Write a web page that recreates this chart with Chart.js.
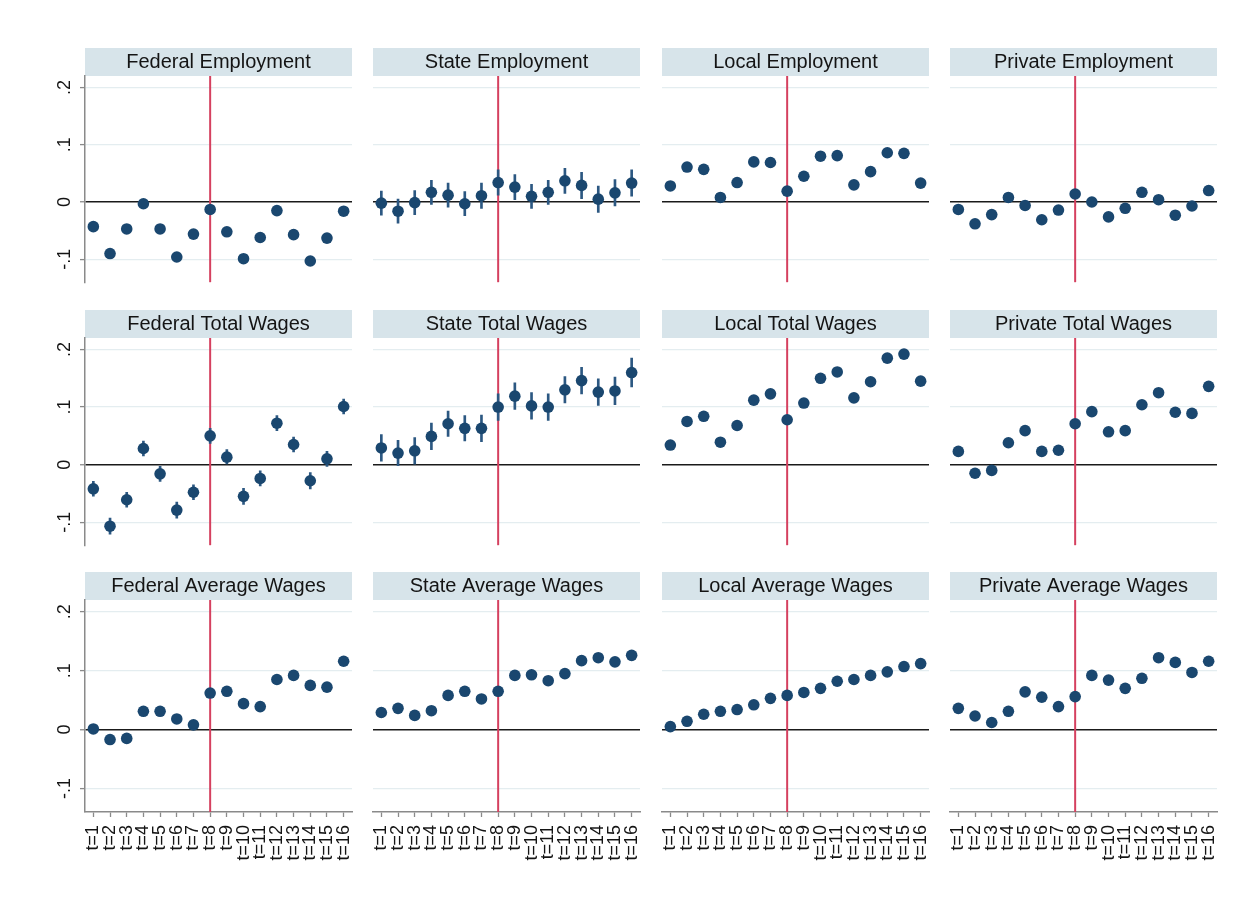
<!DOCTYPE html>
<html>
<head>
<meta charset="utf-8">
<script src="https://cdn.jsdelivr.net/npm/chart.js@4.4.1/dist/chart.umd.min.js"></script>
<style>
  html, body { margin: 0; padding: 0; background: #ffffff; }
  #fig { position: relative; width: 1257px; height: 916px; overflow: hidden; background: #ffffff; }
  #fig canvas { position: absolute; }
</style>
</head>
<body>
<div id="fig"></div>
<script>
// Event-study periods and y-axis ticks
const periods = ['t=1','t=2','t=3','t=4','t=5','t=6','t=7','t=8','t=9','t=10','t=11','t=12','t=13','t=14','t=15','t=16'];
const treatmentPeriod = 't=8';
const yTicks = [-0.1, 0, 0.1, 0.2];
const yTickLabels = ['-.1', '0', '.1', '.2'];

const sectors = ['Federal', 'State', 'Local', 'Private'];
const measures = ['Employment', 'Total Wages', 'Average Wages'];

// Point estimates
const federalEmployment   = [-0.043, -0.090, -0.047, -0.003, -0.047, -0.096, -0.056, -0.013, -0.052, -0.099, -0.062, -0.015, -0.057, -0.103, -0.063, -0.016];
const stateEmployment     = [-0.002, -0.016, -0.001, 0.017, 0.012, -0.003, 0.011, 0.034, 0.026, 0.010, 0.017, 0.037, 0.029, 0.005, 0.016, 0.033];
const localEmployment     = [0.028, 0.061, 0.057, 0.008, 0.034, 0.070, 0.069, 0.019, 0.045, 0.080, 0.081, 0.030, 0.053, 0.086, 0.085, 0.033];
const privateEmployment   = [-0.013, -0.038, -0.022, 0.008, -0.006, -0.031, -0.014, 0.014, 0.000, -0.026, -0.011, 0.017, 0.004, -0.023, -0.007, 0.020];

const federalTotalWages   = [-0.042, -0.107, -0.061, 0.028, -0.016, -0.079, -0.048, 0.050, 0.013, -0.055, -0.024, 0.072, 0.035, -0.028, 0.010, 0.101];
const stateTotalWages     = [0.029, 0.020, 0.024, 0.049, 0.071, 0.063, 0.063, 0.100, 0.119, 0.102, 0.100, 0.130, 0.146, 0.126, 0.128, 0.160];
const localTotalWages     = [0.034, 0.075, 0.084, 0.039, 0.068, 0.112, 0.123, 0.078, 0.107, 0.150, 0.161, 0.116, 0.144, 0.185, 0.192, 0.145];
const privateTotalWages   = [0.023, -0.015, -0.010, 0.038, 0.059, 0.023, 0.025, 0.071, 0.092, 0.057, 0.059, 0.104, 0.125, 0.091, 0.089, 0.136];

const federalAverageWages = [0.001, -0.017, -0.015, 0.031, 0.031, 0.018, 0.008, 0.062, 0.065, 0.044, 0.039, 0.085, 0.092, 0.075, 0.072, 0.116];
const stateAverageWages   = [0.029, 0.036, 0.024, 0.032, 0.058, 0.065, 0.052, 0.065, 0.092, 0.093, 0.083, 0.095, 0.117, 0.122, 0.115, 0.126];
const localAverageWages   = [0.005, 0.014, 0.026, 0.031, 0.034, 0.042, 0.053, 0.058, 0.063, 0.070, 0.082, 0.085, 0.092, 0.098, 0.107, 0.112];
const privateAverageWages = [0.036, 0.023, 0.012, 0.031, 0.064, 0.055, 0.039, 0.056, 0.092, 0.084, 0.070, 0.087, 0.122, 0.114, 0.097, 0.116];

// Confidence-interval half widths (where the interval reaches beyond the marker)
const stateEmploymentCI   = [0.021, 0.021, 0.021, 0.021, 0.021, 0.021, 0.022, 0.022, 0.022, 0.021, 0.021, 0.022, 0.023, 0.023, 0.023, 0.023];
const federalTotalWagesCI = [0.013, 0.014, 0.013, 0.013, 0.013, 0.014, 0.013, 0.013, 0.013, 0.014, 0.013, 0.013, 0.013, 0.014, 0.013, 0.013];
const stateTotalWagesCI   = [0.023, 0.022, 0.023, 0.023, 0.022, 0.022, 0.023, 0.023, 0.023, 0.023, 0.023, 0.023, 0.023, 0.023, 0.024, 0.025];

const panelValues = [
  [federalEmployment, stateEmployment, localEmployment, privateEmployment],
  [federalTotalWages, stateTotalWages, localTotalWages, privateTotalWages],
  [federalAverageWages, stateAverageWages, localAverageWages, privateAverageWages]
];
const panelCI = [
  [null, stateEmploymentCI, null, null],
  [federalTotalWagesCI, stateTotalWagesCI, null, null],
  [null, null, null, null]
];

// Styling
const FONT = "'Liberation Sans', Arial, Helvetica, sans-serif";
const NAVY = '#1a476f';
const SPIKE = '#2c5882';
const STRIP = '#d7e4ea';
const GRID = '#e4edf0';
const AXIS = '#8a8a8a';
const EVENT = '#d5405f';
const TEXT = '#141414';

Chart.defaults.font.family = FONT;
Chart.defaults.color = TEXT;

// Panel frame geometry
const colLeft = [85, 373, 662, 950];
const plotW = 267;
const stripTop = [48, 310, 572];
const plotH = [212, 213, 212];
const STRIP_H = 28;
const Y_AXIS_W = 45;
const X_AXIS_H = 60;
const M = 10;

// Shaded strip behind each panel title
const stripPlugin = {
  id: 'stripBg',
  beforeDraw(chart) {
    const tb = chart.titleBlock;
    const a = chart.chartArea;
    if (!tb) return;
    const ctx = chart.ctx;
    ctx.save();
    ctx.fillStyle = STRIP;
    ctx.fillRect(a.left, tb.top, a.right - a.left, tb.bottom - tb.top);
    ctx.restore();
  }
};

// Vertical line at the treatment period
const eventLinePlugin = {
  id: 'eventLine',
  beforeDatasetsDraw(chart) {
    const xs = chart.scales.x;
    const a = chart.chartArea;
    const x = xs.getPixelForValue(periods.indexOf(treatmentPeriod));
    const ctx = chart.ctx;
    ctx.save();
    ctx.strokeStyle = EVENT;
    ctx.lineWidth = 2;
    ctx.beginPath();
    ctx.moveTo(x, a.top);
    ctx.lineTo(x, a.bottom);
    ctx.stroke();
    ctx.restore();
  }
};

const fig = document.getElementById('fig');

function makePanel(r, c) {
  const firstCol = c === 0;
  const lastRow = r === 2;
  const values = panelValues[r][c];
  const ci = panelCI[r][c];

  const w = plotW + 2 * M + (firstCol ? Y_AXIS_W : 0);
  const h = STRIP_H + plotH[r] + (lastRow ? X_AXIS_H : 0);
  const cv = document.createElement('canvas');
  cv.width = w; cv.height = h;
  cv.style.width = w + 'px'; cv.style.height = h + 'px';
  cv.style.left = (colLeft[c] - M - (firstCol ? Y_AXIS_W : 0)) + 'px';
  cv.style.top = stripTop[r] + 'px';
  fig.appendChild(cv);

  const datasets = [];
  if (ci) {
    datasets.push({
      type: 'bar',
      data: values.map((v, i) => [v - ci[i], v + ci[i]]),
      backgroundColor: SPIKE,
      borderWidth: 0,
      barThickness: 2,
      order: 2
    });
  }
  datasets.push({
    type: 'line',
    data: values,
    showLine: false,
    pointRadius: 5.8,
    pointHoverRadius: 5.8,
    pointBackgroundColor: NAVY,
    pointBorderWidth: 0,
    order: 1
  });

  new Chart(cv, {
    type: 'line',
    data: { labels: periods, datasets },
    options: {
      responsive: false,
      animation: false,
      devicePixelRatio: 1,
      events: [],
      layout: { padding: { left: M, right: M, top: 0, bottom: 0 } },
      plugins: {
        legend: { display: false },
        tooltip: { enabled: false },
        title: {
          display: true,
          text: sectors[c] + ' ' + measures[r],
          fullSize: false,
          color: TEXT,
          font: { size: 20, weight: 'normal', lineHeight: 1 },
          padding: { top: 4, bottom: 4 }
        }
      },
      scales: {
        x: {
          type: 'category',
          offset: true,
          display: lastRow,
          grid: { display: true, drawOnChartArea: false, drawTicks: true, tickLength: 5, tickColor: AXIS, tickWidth: 1.3, offset: false },
          border: { display: true, color: AXIS, width: 1.5 },
          ticks: { autoSkip: false, minRotation: 90, maxRotation: 90, padding: 8, color: TEXT, font: { size: 18 } },
          afterFit: s => {
            s.height = lastRow ? X_AXIS_H : 0;
            s.paddingLeft = 0;
            s.paddingRight = 0;
          }
        },
        y: {
          min: -0.14,
          max: 0.22,
          afterBuildTicks: s => { s.ticks = yTicks.map(v => ({ value: v })); },
          grid: {
            color: g => (g.tick && Math.abs(g.tick.value) < 1e-9) ? '#1a1a1a' : GRID,
            lineWidth: g => (g.tick && Math.abs(g.tick.value) < 1e-9) ? 1.5 : 1.2,
            drawTicks: firstCol,
            tickLength: 5,
            tickColor: AXIS,
            tickWidth: 1.3
          },
          border: { display: firstCol, color: AXIS, width: 1.5 },
          ticks: {
            display: firstCol,
            minRotation: 90,
            maxRotation: 90,
            crossAlign: 'center',
            padding: 4,
            color: TEXT,
            font: { size: 18 },
            callback: (v) => {
              const i = yTicks.findIndex(t => Math.abs(t - v) < 1e-9);
              return i >= 0 ? yTickLabels[i] : '';
            }
          },
          afterFit: s => {
            s.width = firstCol ? Y_AXIS_W : 0;
            s.paddingTop = 0;
            s.paddingBottom = 0;
          }
        }
      }
    },
    plugins: [stripPlugin, eventLinePlugin]
  });
}

for (let r = 0; r < 3; r++) {
  for (let c = 0; c < 4; c++) {
    makePanel(r, c);
  }
}
</script>
</body>
</html>
